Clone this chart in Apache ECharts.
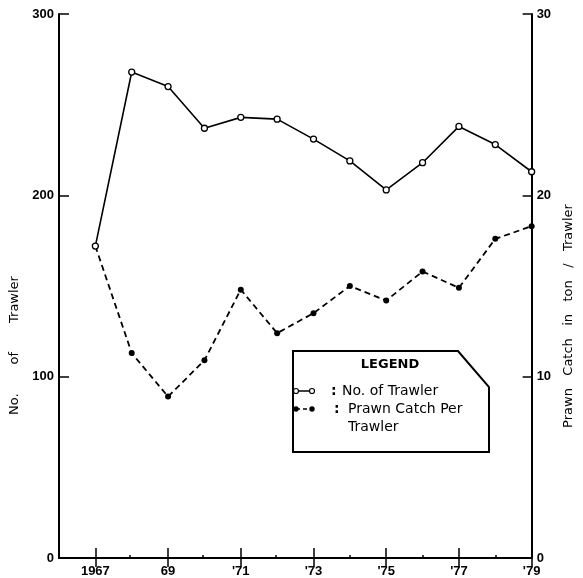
<!DOCTYPE html>
<html>
<head>
<meta charset="utf-8">
<script src="https://cdn.jsdelivr.net/npm/echarts@6/dist/echarts.min.js"></script>
<style>
  html, body { margin: 0; padding: 0; background: #fff; }
  #chart { width: 583px; height: 578px; }
</style>
</head>
<body>
<div id="chart"></div>
<script>
// Trawler fleet size and prawn catch per trawler, 1967-1979
const years = [1967, 1968, 1969, 1970, 1971, 1972, 1973, 1974, 1975, 1976, 1977, 1978, 1979];
const trawlers = [172, 268, 260, 237, 243, 242, 231, 219, 203, 218, 238, 228, 213];
const prawnCatch = [17.2, 11.3, 8.9, 10.9, 14.8, 12.4, 13.5, 15.0, 14.2, 15.8, 14.9, 17.6, 18.3];

// Year axis ticks: labelled (odd) years and short unlabelled (even) years
const tickYears = [1967, 1969, 1971, 1973, 1975, 1977, 1979];
const tickLabels = ['1967', '69', "'71", "'73", "'75", "'77", "'79"];
const minorYears = [1968, 1970, 1972, 1974, 1976, 1978];

const seriesNames = ['No. of Trawler', 'Prawn Catch Per Trawler'];

const FONT = '"DejaVu Sans", "Liberation Sans", Arial, sans-serif';
const TICK_FONT = '"Liberation Sans", Arial, Helvetica, sans-serif';
const INK = '#000';

const chart = echarts.init(document.getElementById('chart'), null, { renderer: 'canvas' });

const gridBox = { left: 57, right: 51, top: 14, bottom: 20 };
const tickFont = { color: INK, fontFamily: TICK_FONT, fontSize: 13, fontWeight: 'bold' };

function pairs(values) {
  return years.map((y, i) => [y, values[i]]);
}

const option = {
  animation: false,
  backgroundColor: '#fff',
  grid: [
    Object.assign({}, gridBox),
    Object.assign({}, gridBox)
  ],
  xAxis: [
    {
      type: 'value', gridIndex: 0, position: 'bottom', min: 1966, max: 1979,
      axisLine: { lineStyle: { color: INK, width: 2 } },
      axisTick: { inside: true, length: 10, customValues: tickYears, lineStyle: { color: INK, width: 1.5 } },
      axisLabel: Object.assign({
        customValues: tickYears, margin: 7,
        formatter: v => tickLabels[tickYears.indexOf(v)]
      }, tickFont),
      splitLine: { show: false }
    },
    {
      type: 'value', gridIndex: 0, position: 'top', min: 1966, max: 1979,
      axisLine: { lineStyle: { color: INK, width: 1.5 } },
      axisTick: { inside: true, length: 9, customValues: tickYears, lineStyle: { color: INK, width: 1.5 } },
      axisLabel: { show: false },
      splitLine: { show: false }
    },
    {
      type: 'value', gridIndex: 1, position: 'bottom', min: 1966, max: 1979,
      axisLine: { show: false },
      axisTick: { inside: true, length: 3, customValues: minorYears, lineStyle: { color: INK, width: 1.5 } },
      axisLabel: { show: false },
      splitLine: { show: false }
    }
  ],
  yAxis: [
    {
      type: 'value', gridIndex: 0, position: 'left', min: 0, max: 300, interval: 100,
      name: 'No.       of       Trawler', nameLocation: 'middle', nameRotate: 90, nameGap: 38,
      nameTextStyle: { color: INK, fontFamily: FONT, fontSize: 13, padding: [0, 119, 0, 0] },
      axisLine: { show: true, lineStyle: { color: INK, width: 2 } },
      axisTick: { show: true, inside: true, length: 10, lineStyle: { color: INK, width: 1.5 } },
      axisLabel: Object.assign({ margin: 5 }, tickFont),
      splitLine: { show: false }
    },
    {
      type: 'value', gridIndex: 0, position: 'right', min: 0, max: 30, interval: 10,
      name: 'Prawn   Catch   in   ton   /   Trawler', nameLocation: 'middle', nameRotate: 90, nameGap: 17,
      nameTextStyle: { color: INK, fontFamily: FONT, fontSize: 13, padding: [0, 60, 0, 0] },
      axisLine: { show: true, lineStyle: { color: INK, width: 2 } },
      axisTick: { show: true, inside: true, length: 9, lineStyle: { color: INK, width: 1.5 } },
      axisLabel: Object.assign({ margin: 5 }, tickFont),
      splitLine: { show: false }
    },
    {
      type: 'value', gridIndex: 1, min: 0, max: 300, show: false
    }
  ],
  series: [
    {
      name: seriesNames[1], type: 'line', xAxisIndex: 0, yAxisIndex: 1,
      data: pairs(prawnCatch),
      symbol: 'circle', symbolSize: 6,
      lineStyle: { color: INK, width: 1.8, type: [6, 4] },
      itemStyle: { color: INK }
    },
    {
      name: seriesNames[0], type: 'line', xAxisIndex: 0, yAxisIndex: 0,
      data: pairs(trawlers),
      symbol: 'circle', symbolSize: 6,
      lineStyle: { color: INK, width: 1.6, type: 'solid' },
      itemStyle: { color: '#fff', borderColor: INK, borderWidth: 1.3 }
    }
  ],
  graphic: [
    {
      type: 'group', left: 292, top: 350,
      children: [
        {
          type: 'polygon',
          shape: { points: [[1, 1], [166, 1], [197, 37], [197, 102], [1, 102]] },
          style: { fill: '#fff', stroke: INK, lineWidth: 2 }
        },
        {
          type: 'text', x: 98, y: 15,
          style: { text: 'LEGEND', fill: INK, font: 'bold 13px ' + FONT, align: 'center', verticalAlign: 'middle' }
        },
        // sample: trawler line (hollow markers)
        { type: 'line', shape: { x1: 4, y1: 41, x2: 20, y2: 41 }, style: { stroke: INK, lineWidth: 1.5 } },
        { type: 'circle', shape: { cx: 4, cy: 41, r: 2.5 }, style: { fill: '#fff', stroke: INK, lineWidth: 1.2 } },
        { type: 'circle', shape: { cx: 20, cy: 41, r: 2.5 }, style: { fill: '#fff', stroke: INK, lineWidth: 1.2 } },
        {
          type: 'text', x: 39, y: 41,
          style: { text: ':', fill: INK, font: 'bold 14px ' + FONT, verticalAlign: 'middle' }
        },
        {
          type: 'text', x: 50, y: 41,
          style: { text: seriesNames[0], fill: INK, font: '14px ' + FONT, verticalAlign: 'middle' }
        },
        // sample: prawn catch line (dashed, filled markers)
        { type: 'line', shape: { x1: 4, y1: 59, x2: 20, y2: 59 }, style: { stroke: INK, lineWidth: 1.5, lineDash: [4, 3] } },
        { type: 'circle', shape: { cx: 4, cy: 59, r: 2.7 }, style: { fill: INK } },
        { type: 'circle', shape: { cx: 20, cy: 59, r: 2.7 }, style: { fill: INK } },
        {
          type: 'text', x: 42, y: 59,
          style: { text: ':', fill: INK, font: 'bold 14px ' + FONT, verticalAlign: 'middle' }
        },
        {
          type: 'text', x: 56, y: 68,
          style: { text: 'Prawn Catch Per\nTrawler', fill: INK, font: '14px ' + FONT, verticalAlign: 'middle', lineHeight: 18 }
        }
      ]
    }
  ]
};

chart.setOption(option);
</script>
</body>
</html>
